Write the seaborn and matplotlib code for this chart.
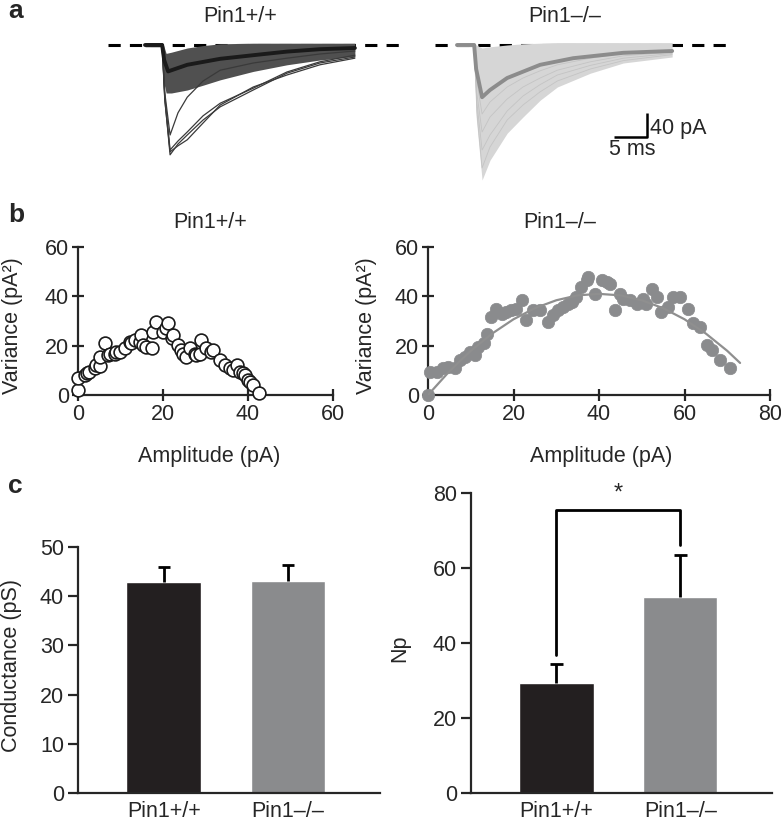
import matplotlib
matplotlib.use('Agg')
import matplotlib.pyplot as plt
import pandas as pd
import seaborn as sns

sns.set_style('ticks')
plt.rcParams['font.family'] = ['Liberation Sans', 'DejaVu Sans']
plt.rcParams['font.size'] = 15.5

W, H = 781, 826
DARK = '#231f20'
GREY = '#8a8b8d'

# ---- panel a: traces (time in ms, current in pA)
wt_env_t = [0, 2.6, 2.8, 3.2, 4.0, 6.4, 8.8, 11.4, 16.4, 21.5, 26.5, 31.8]
wt_env_lo = [-3, -3, -60, -80, -80, -75, -67, -58, -44, -33, -25, -19]
wt_env_hi = [4, 4, 0, -14, -12, -5, -1, 2, 3, 3, 3, 3]
wt_mean_t = [0, 2.6, 2.9, 3.5, 6.4, 11.4, 16.4, 21.5, 26.5, 31.8]
wt_mean = [0, 0, -25, -44, -33, -23, -17, -11, -7, -5]
wt_big_t = [0, 2.6, 3.0, 3.8, 5.0, 6.4, 8.8, 11.4, 16.4, 21.5, 26.5, 31.8]
wt_big = [
    [0, 0, -90, -183, -165, -150, -125, -103, -75, -47, -30, -20],
    [0, 0, -92, -178, -168, -158, -130, -100, -70, -50, -33, -22],
    [0, 0, -85, -175, -160, -145, -118, -97, -72, -45, -28, -17],
    [0, 0, -80, -150, -113, -87, -60, -42, -30, -22, -15, -10],
]

ko_env_t = [0, 2.6, 2.9, 3.8, 5.0, 7.6, 10.0, 12.6, 15.2, 20.2, 25.2, 32.6]
ko_env_lo = [-3, -3, -120, -225, -192, -147, -120, -92, -70, -47, -30, -20]
ko_env_hi = [4, 4, 0, -5, -3, 0, 2, 3, 4, 4, 4, 4]
ko_tr_t = [0, 2.6, 3.0, 3.8, 5.0, 7.6, 10.0, 12.6, 15.2, 20.2, 25.2, 32.6]
ko_traces = [
    [0, 0, -110, -205, -170, -125, -100, -78, -60, -40, -26, -16],
    [0, 0, -95, -175, -150, -110, -85, -66, -50, -34, -22, -14],
    [0, 0, -80, -145, -120, -90, -70, -55, -42, -28, -18, -12],
    [0, 0, -60, -115, -95, -70, -55, -43, -33, -22, -14, -9],
]
ko_mean_t = [0, 2.6, 2.9, 3.8, 5.0, 7.6, 12.6, 17.6, 25.2, 32.6]
ko_mean = [0, 0, -40, -87, -75, -55, -33, -22, -13, -10]

scale_ms, scale_pa = 5, 40

# ---- panel b: variance vs amplitude
wt_amp = [0, 0, 1.6, 2.0, 2.7, 3.9, 4.3, 5.1, 5.1, 6.3, 7.1, 7.5, 8.6, 9.0, 9.8,
          11.0, 12.2, 12.5, 13.3, 14.5, 14.9, 15.3, 16.1, 17.3, 17.6, 18.4, 20.0,
          20.8, 21.2, 22.0, 22.4, 23.5, 24.3, 24.7, 25.5, 26.3, 27.5, 27.8, 28.6,
          29.0, 30.2, 31.4, 31.8, 33.3, 34.5, 35.7, 36.5, 37.3, 38.0, 38.8, 39.2,
          40.0, 40.4, 41.2, 42.7]
wt_var = [2.0, 6.7, 8.0, 8.8, 9.4, 10.8, 12.1, 11.7, 15.5, 20.9, 16.2, 16.8, 16.8,
          17.5, 17.5, 18.9, 21.5, 20.9, 22.2, 21.5, 24.2, 20.2, 19.5, 18.9, 25.6,
          29.6, 25.6, 27.0, 29.0, 23.0, 24.2, 20.2, 18.2, 16.8, 15.5, 18.9, 16.8,
          16.1, 16.8, 22.2, 18.9, 17.5, 18.2, 14.1, 12.1, 10.8, 10.1, 12.1, 9.4,
          8.8, 8.1, 6.1, 5.4, 4.0, 0.7]

ko_amp = [0, 0.4, 2.0, 3.5, 4.7, 6.2, 7.4, 8.6, 9.8, 10.9, 11.7, 13.0, 13.7, 14.8,
          16.0, 17.2, 18.3, 19.5, 20.7, 21.9, 23.0, 24.6, 26.2, 28.1, 29.3, 30.4,
          31.6, 32.8, 33.6, 34.7, 35.9, 37.1, 37.5, 39.0, 40.6, 41.8, 42.5, 43.7,
          44.9, 45.7, 47.3, 48.8, 50.4, 51.1, 52.3, 53.5, 54.6, 56.2, 57.4, 58.9,
          60.9, 62.1, 63.6, 65.2, 66.4, 68.3, 70.6]
ko_var = [0, 9.4, 9.4, 10.8, 11.4, 10.8, 14.1, 15.5, 17.5, 16.2, 19.5, 20.9, 24.9,
          31.6, 35.0, 33.0, 33.7, 34.3, 35.0, 38.4, 30.3, 34.3, 34.3, 29.6, 32.3,
          34.3, 35.7, 37.0, 37.7, 39.7, 43.8, 46.5, 47.8, 41.0, 46.5, 45.8, 45.1,
          34.3, 41.0, 39.0, 38.4, 37.0, 39.0, 37.0, 43.1, 39.7, 33.7, 35.7, 39.7,
          39.7, 35.0, 29.0, 27.6, 20.2, 18.2, 14.1, 10.8]
ko_fit_amp = [0, 5, 10, 15, 20, 25, 30, 35, 40, 45, 50, 55, 60, 65, 70, 73]
ko_fit_var = [0, 9.6, 17.9, 24.9, 30.7, 35.2, 38.4, 40.4, 41.0, 40.4, 38.4, 35.2,
              30.7, 24.9, 17.9, 13.0]

# ---- panel c: bar charts
groups = ['Pin1+/+', 'Pin1–/–']
cond_mean = [42.8, 43.0]
cond_sem = [3.2, 3.4]
np_mean = [29.3, 52.3]
np_sem = [5.1, 11.2]
sig_x = [0, 0, 1, 1]
sig_y = [36.8, 75.5, 75.5, 66.1]

fig = plt.figure(figsize=(W / 100, H / 100), dpi=100)


def px_axes(x0, y0, x1, y1):
    return fig.add_axes([x0 / W, 1 - y1 / H, (x1 - x0) / W, (y1 - y0) / H])


# ================= panel a
ylim_a = (-(190 - 45) / 24 * 40, (45 - 35) / 24 * 40)
ax_a1 = px_axes(108, 35, 400, 190)
ax_a2 = px_axes(435, 35, 727, 190)
for ax, x0, lo in ((ax_a1, 145, 108), (ax_a2, 457, 435)):
    ax.set_xlim((lo - x0) / 6.6, (lo - x0) / 6.6 + 292 / 6.6)
    ax.set_ylim(*ylim_a)
    ax.axis('off')
    ax.axhline(0, color='black', lw=2.2, ls=(0, (4, 3)), zorder=1)

ax_a1.fill_between(wt_env_t, wt_env_lo, wt_env_hi, color='#505050', lw=0, zorder=2)
for tr in wt_big:
    sns.lineplot(x=wt_big_t, y=tr, ax=ax_a1, color='#3a3a3a', lw=0.9, sort=False,
                 estimator=None, zorder=3)
sns.lineplot(x=wt_mean_t, y=wt_mean, ax=ax_a1, color='#1a1a1a', lw=2.8, sort=False,
             estimator=None, zorder=4)

ax_a2.fill_between(ko_env_t, ko_env_lo, ko_env_hi, color='#d6d6d6', lw=0, zorder=2)
for tr in ko_traces:
    sns.lineplot(x=ko_tr_t, y=tr, ax=ax_a2, color='#c4c4c4', lw=0.6, sort=False,
                 estimator=None, zorder=3)
sns.lineplot(x=ko_mean_t, y=ko_mean, ax=ax_a2, color='#8c8c8c', lw=2.8, sort=False,
             estimator=None, zorder=4)

# scale bar
sb_x = (647 - 457) / 6.6
sb_y = -(137 - 45) / 24 * 40
ax_a2.plot([sb_x - scale_ms, sb_x, sb_x], [sb_y, sb_y, sb_y + scale_pa], color='black',
           lw=1.8, solid_capstyle='butt')
ax_a2.text(sb_x + 0.5, sb_y + scale_pa * 0.35, f'{scale_pa} pA', ha='left', va='center',
           fontsize=15.5)
ax_a2.text(sb_x - scale_ms / 2 + 0.2, sb_y - 4, f'{scale_ms} ms', ha='center', va='top',
           fontsize=15.5)

fig.text(240 / W, 1 - 17 / H, 'Pin1+/+', ha='center', va='center', fontsize=15.5)
fig.text(565 / W, 1 - 17 / H, 'Pin1–/–', ha='center', va='center', fontsize=15.5)

# ================= panel b
ax_b1 = px_axes(78, 247, 333, 395)
ax_b2 = px_axes(428, 247, 770, 395)

sns.scatterplot(x=wt_amp, y=wt_var, ax=ax_b1, s=85, color='white', edgecolor='#1a1a1a',
                linewidth=1.2, clip_on=False, zorder=3)
sns.scatterplot(x=ko_amp, y=ko_var, ax=ax_b2, s=80, color=GREY, edgecolor=GREY,
                linewidth=0.5, clip_on=False, zorder=3)
sns.lineplot(x=ko_fit_amp, y=ko_fit_var, ax=ax_b2, color='#8f8f8f', lw=1.6,
             estimator=None, sort=False, zorder=4)

for ax, xmax, title, tx in ((ax_b1, 60, 'Pin1+/+', 0.52), (ax_b2, 80, 'Pin1–/–', 0.386)):
    ax.set_xlim(0, xmax)
    ax.set_ylim(0, 60)
    ax.set_xticks(range(0, xmax + 1, 20))
    ax.set_yticks([0, 20, 40, 60])
    ax.tick_params(direction='inout', length=9, width=1.6, labelsize=15.5, pad=2)
    for s in ('top', 'right'):
        ax.spines[s].set_visible(False)
    for s in ('left', 'bottom'):
        ax.spines[s].set_linewidth(1.6)
    ax.set_xlabel('Amplitude (pA)', fontsize=15.5)
    ax.set_ylabel('Variance (pA²)', fontsize=15.5)
    ax.text(tx, 1 + 25 / 148, title, transform=ax.transAxes, ha='center', va='center',
            fontsize=15.5)
ax_b1.xaxis.set_label_coords(0.514, -0.345)
ax_b2.xaxis.set_label_coords(0.506, -0.345)
ax_b1.yaxis.set_label_coords(-0.216, 0.47)
ax_b2.yaxis.set_label_coords(-0.149, 0.47)

# ================= panel c
ax_c1 = px_axes(78, 547, 380, 793)
ax_c2 = px_axes(471, 493, 772, 793)

for ax, means, sems, ymax, step, ylab in (
        (ax_c1, cond_mean, cond_sem, 50, 10, 'Conductance (pS)'),
        (ax_c2, np_mean, np_sem, 80, 20, 'Np')):
    df = pd.DataFrame({'group': groups, 'value': means})
    sns.barplot(data=df, x='group', y='value', hue='group', palette=[DARK, GREY],
                width=0.6, ax=ax, legend=False, saturation=1, zorder=2)
    tops = [m + e for m, e in zip(means, sems)]
    ax.vlines([0, 1], means, tops, color='black', lw=2, zorder=3)
    ax.hlines(tops, [-0.05, 0.95], [0.05, 1.05], color='black', lw=2, zorder=3)
    ax.set_xlim(-0.69, 1.74)
    ax.set_ylim(0, ymax)
    ax.set_yticks(range(0, ymax + 1, step))
    ax.tick_params(axis='y', direction='out', length=7, width=1.6, labelsize=15.5, pad=3)
    ax.tick_params(axis='x', length=0, labelsize=15.5, pad=6)
    for s in ('top', 'right'):
        ax.spines[s].set_visible(False)
    for s in ('left', 'bottom'):
        ax.spines[s].set_linewidth(1.6)
    ax.set_xlabel('')
    ax.set_ylabel(ylab, fontsize=15.5)

ax_c1.yaxis.set_label_coords(-0.185, 0.52)
ax_c2.yaxis.set_label_coords(-0.203, 0.483)

ax_c2.plot(sig_x, sig_y, color='black', lw=2, clip_on=False, zorder=4)
ax_c2.text(0.5, 77, '*', ha='center', va='bottom', fontsize=17, clip_on=False)

# panel letters
for letter, y in (('a', 18), ('b', 222), ('c', 493)):
    fig.text(8 / W, 1 - y / H, letter, ha='left', va='baseline', fontsize=19,
             fontweight='bold')

fig.savefig('out.png', dpi=100)
